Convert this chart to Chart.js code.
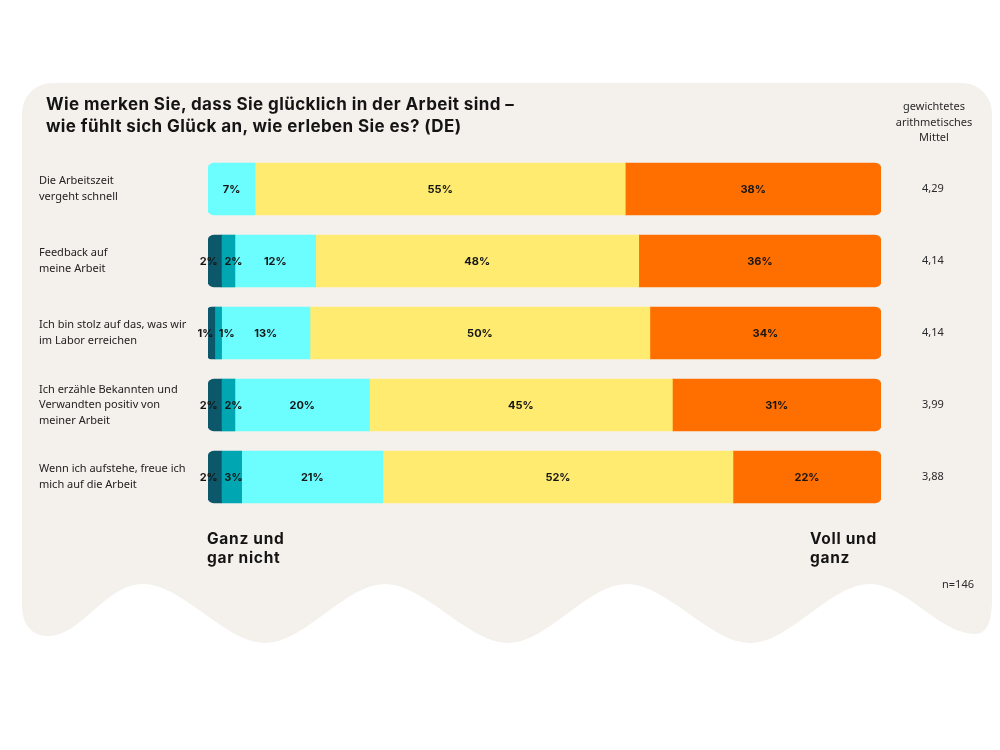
<!DOCTYPE html>
<html>
<head>
<meta charset="utf-8">
<script src="https://cdn.jsdelivr.net/npm/chart.js@4.4.1/dist/chart.umd.min.js"></script>
<style>
  html, body { margin: 0; padding: 0; background: #ffffff; }
  #wrap { position: relative; width: 1000px; height: 750px; overflow: hidden; }
  #card { position: absolute; left: 0; top: 0; }
  #c { position: absolute; left: 0; top: 0; }
  .txt { position: absolute; color: #1b1b1b; white-space: nowrap; }
  #title { left: 46px; top: 93px; font-family: Inter, 'Noto Sans', sans-serif; font-weight: 700; font-size: 17px; line-height: 22px; letter-spacing: 0.4px; color: #141414; }
  #meanHead { left: 884px; width: 100px; top: 98px; text-align: center; font-family: 'Noto Sans', sans-serif; font-size: 11px; line-height: 15.5px; color: #2a2a2a; }
  .endLbl { font-family: Inter, 'Noto Sans', sans-serif; font-weight: 700; font-size: 15.5px; line-height: 19px; letter-spacing: 0.7px; color: #141414; }
  #lo { left: 207px; top: 529px; }
  #hi { left: 810px; top: 529px; }
  #nval { left: 930px; width: 44px; text-align: right; top: 576px; font-family: 'Noto Sans', sans-serif; font-size: 11px; color: #2a2a2a; }
</style>
</head>
<body>
<div id="wrap">
  <svg id="card" width="1000" height="750" viewBox="0 0 1000 750">
    <path fill="#f4f1ec" d="M 52 83 H 962 A 30 30 0 0 1 992 113 V 598
      C 992 622, 987 634, 975 634
      C 940 634, 905 584, 870 584
      C 830 584, 790 643, 750 643
      C 710 643, 667 584, 627 584
      C 587 584, 548 643, 508 643
      C 468 643, 425 584, 385 584
      C 345 584, 305 643, 265 643
      C 225 643, 183 584, 143 584
      C 105 584, 82 636, 48 636
      C 32 636, 22 625, 22 605
      V 113 A 30 30 0 0 1 52 83 Z"/>
  </svg>
  <canvas id="c" width="1000" height="750"></canvas>
  <div id="title" class="txt">Wie merken Sie, dass Sie glücklich in der Arbeit sind –<br>wie fühlt sich Glück an, wie erleben Sie es? (DE)</div>
  <div id="meanHead" class="txt">gewichtetes<br>arithmetisches<br>Mittel</div>
  <div id="lo" class="txt endLbl">Ganz und<br>gar nicht</div>
  <div id="hi" class="txt endLbl">Voll und<br>ganz</div>
  <div id="nval" class="txt">n=146</div>
</div>
<script>
// ---- data ----
const categories = [
  ["Die Arbeitszeit", "vergeht schnell"],
  ["Feedback auf", "meine Arbeit"],
  ["Ich bin stolz auf das, was wir", "im Labor erreichen"],
  ["Ich erzähle Bekannten und", "Verwandten positiv von", "meiner Arbeit"],
  ["Wenn ich aufstehe, freue ich", "mich auf die Arbeit"]
];
const seriesNames = ["Ganz und gar nicht", "Eher nicht", "Teils/teils", "Eher", "Voll und ganz"];
const ganzUndGarNicht = [0, 2, 1, 2, 2];
const eherNicht       = [0, 2, 1, 2, 3];
const teilsTeils      = [7, 12, 13, 20, 21];
const eher            = [55, 48, 50, 45, 52];
const vollUndGanz     = [38, 36, 34, 31, 22];
const means = ["4,29", "4,14", "4,14", "3,99", "3,88"];

const colors = ["#0c586a", "#00a7b2", "#6cfdff", "#ffeb70", "#ff6f00"];
const series = [ganzUndGarNicht, eherNicht, teilsTeils, eher, vollUndGanz];

// build floating segments (normalised to 100% per row)
const totals = categories.map((_, i) => series.reduce((s, arr) => s + arr[i], 0));
const cum = categories.map(() => 0);
const datasets = series.map((arr, d) => {
  const data = arr.map((v, i) => {
    const t = totals[i];
    const start = cum[i] / t * 100;
    cum[i] += v;
    const end = cum[i] / t * 100;
    return v > 0 ? [start, end] : null;
  });
  return {
    label: seriesNames[d],
    data: data,
    raw: arr,
    backgroundColor: colors[d],
    borderWidth: 0,
    borderSkipped: false,
    barThickness: 52,
    grouped: false,
    borderRadius: (ctx) => {
      const i = ctx.dataIndex, di = ctx.datasetIndex;
      let first = -1, last = -1;
      series.forEach((a, k) => { if (a[i] > 0) { if (first < 0) first = k; last = k; } });
      const r = 6;
      return {
        topLeft: di === first ? r : 0, bottomLeft: di === first ? r : 0,
        topRight: di === last ? r : 0, bottomRight: di === last ? r : 0
      };
    }
  };
});

const labelPlugin = {
  id: 'segLabels',
  afterDatasetsDraw(chart) {
    const ctx = chart.ctx;
    ctx.save();
    ctx.font = "700 11px Inter, 'Noto Sans', sans-serif";
    ctx.fillStyle = "#151515";
    ctx.textAlign = "center";
    ctx.textBaseline = "middle";
    chart.data.datasets.forEach((ds, d) => {
      const meta = chart.getDatasetMeta(d);
      meta.data.forEach((el, i) => {
        const v = ds.raw[i];
        if (!v) return;
        const p = el.getProps(['x', 'base', 'y'], true);
        let x = (p.x + p.base) / 2;
        if (d === 0) x -= 6;
        if (d === 1) x = Math.max(x, p.base + 12);
        ctx.fillText(v + "%", x, p.y + 1);
      });
    });
    ctx.restore();
  }
};

new Chart(document.getElementById('c'), {
  type: 'bar',
  data: { labels: categories, datasets: datasets },
  plugins: [labelPlugin],
  options: {
    indexAxis: 'y',
    responsive: false,
    animation: false,
    devicePixelRatio: 1,
    layout: { padding: { left: 39, right: 19, top: 153, bottom: 237 } },
    plugins: { legend: { display: false }, tooltip: { enabled: false } },
    scales: {
      x: { type: 'linear', min: 0, max: 100, display: false },
      y: {
        type: 'category',
        offset: true,
        grid: { display: false, drawTicks: false },
        border: { display: false },
        ticks: {
          crossAlign: 'far',
          color: '#222222',
          font: { family: "'Noto Sans', sans-serif", size: 11, lineHeight: 1.42 }
        },
        afterFit: (s) => { s.width = 169; }
      },
      y2: {
        type: 'category',
        position: 'right',
        labels: means,
        offset: true,
        grid: { display: false, drawTicks: false },
        border: { display: false },
        ticks: {
          padding: 41,
          color: '#2a2a2a',
          font: { family: "'Noto Sans', sans-serif", size: 11 }
        },
        afterFit: (s) => { s.width = 100; }
      }
    }
  }
});
</script>
</body>
</html>
